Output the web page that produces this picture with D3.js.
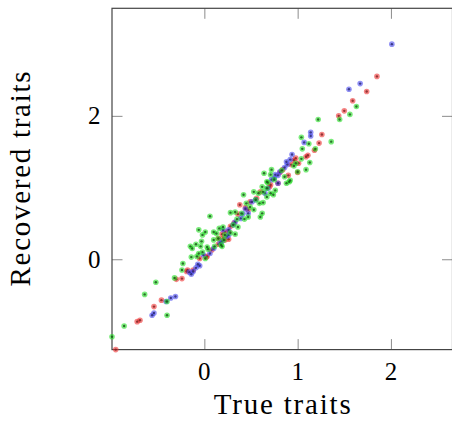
<!DOCTYPE html>
<html>
<head>
<meta charset="utf-8">
<script src="https://cdn.jsdelivr.net/npm/d3@7"></script>
<style>
  html, body { margin: 0; padding: 0; background: #fff; }
  svg { display: block; }
  text { font-family: "Liberation Serif", serif; fill: #000; }
</style>
</head>
<body>
<svg id="chart" width="452" height="421"></svg>
<script>
// ---- data (True trait, Recovered trait) ----
const redPoints = [
  [1.85,2.55],[1.74,2.34],[1.59,2.21],[1.50,2.07],[1.44,2.00],[1.26,1.74],[1.23,1.62],
  [1.11,1.45],[1.09,1.43],[0.98,1.41],[0.96,1.38],[1.01,1.34],[0.90,1.17],[0.79,1.06],
  [0.71,1.04],[0.81,1.21],[1.00,1.21],[0.70,1.01],[0.56,0.85],[0.49,0.80],[0.38,0.76],
  [0.47,0.69],[0.36,0.63],[0.32,0.51],[0.28,0.46],[0.22,0.38],[0.19,0.35],[0.15,0.29],
  [0.26,0.28],[0.26,0.39],[0.20,0.29],[0.15,0.21],[0.03,0.04],[-0.05,0.01],[0.02,0.03],
  [-0.12,-0.15],[-0.19,-0.17],[-0.18,-0.15],[-0.24,-0.27],[-0.30,-0.28],[-0.46,-0.57],
  [-0.54,-0.66],[-0.69,-0.85],[-0.72,-0.87],[-0.95,-1.26],[0.22,0.27],[0.60,0.94],
  [0.44,0.72],[0.08,0.13],[0.84,1.25],[0.93,1.32],[1.18,1.52]
];
const bluePoints = [
  [2.01,3.00],[1.67,2.45],[1.55,2.37],[1.14,1.77],[1.14,1.72],[1.07,1.63],[0.94,1.46],
  [0.92,1.39],[0.88,1.36],[0.89,1.32],[0.86,1.28],[0.81,1.22],[0.79,1.17],[0.75,1.13],
  [0.72,1.11],[0.76,1.18],[0.79,1.06],[0.65,0.92],[0.51,0.80],[0.44,0.70],[0.47,0.64],
  [0.39,0.57],[0.33,0.52],[0.26,0.41],[0.24,0.32],[0.17,0.23],[0.20,0.41],[0.26,0.34],
  [0.19,0.25],[0.10,0.15],[0.06,0.08],[-0.01,0.06],[-0.05,-0.09],[-0.09,-0.12],
  [-0.16,-0.18],[-0.14,-0.21],[-0.12,-0.17],[-0.07,-0.07],[-0.31,-0.52],[-0.36,-0.54],
  [-0.41,-0.59],[-0.54,-0.75],[-0.56,-0.78],[0.31,0.48],[0.41,0.63],[0.55,0.83],[0.68,0.99]
];
const greenPoints = [
  [1.63,2.13],[1.56,2.02],[1.45,1.95],[1.22,1.95],[1.04,1.70],[1.36,1.64],[1.12,1.61],
  [1.05,1.54],[1.19,1.54],[1.04,1.40],[1.13,1.35],[0.98,1.34],[0.96,1.30],[1.09,1.25],
  [0.72,1.25],[1.00,1.22],[0.83,1.24],[0.86,1.15],[0.71,1.18],[0.91,1.08],[0.88,1.06],
  [0.67,1.08],[0.76,0.96],[0.67,0.99],[0.64,1.20],[0.75,1.11],[0.68,1.07],[0.71,0.92],
  [0.62,1.01],[0.63,0.94],[0.67,0.87],[0.58,0.92],[0.53,0.94],[0.42,0.90],[0.55,0.83],
  [0.59,0.78],[0.63,0.79],[0.49,0.73],[0.45,0.78],[0.53,0.69],[0.62,0.64],[0.60,0.59],
  [0.40,0.64],[0.28,0.65],[0.33,0.66],[0.43,0.56],[0.35,0.56],[0.47,0.59],[0.31,0.48],
  [0.36,0.45],[0.20,0.45],[0.16,0.43],[0.28,0.37],[0.33,0.35],[0.13,0.36],[0.21,0.27],
  [0.19,0.18],[0.06,0.60],[-0.06,0.41],[0.01,0.38],[-0.02,0.34],[0.10,0.38],[0.22,0.34],
  [0.10,0.27],[0.15,0.29],[-0.03,0.25],[-0.09,0.21],[-0.13,0.15],[-0.04,0.18],[0.11,0.18],
  [0.04,0.14],[-0.02,0.10],[-0.06,0.08],[-0.14,0.03],[-0.08,0.04],[0.01,0.01],
  [-0.23,-0.06],[-0.24,-0.15],[-0.32,-0.26],[-0.52,-0.32],[-0.64,-0.49],[-0.40,-0.59],
  [-0.40,-0.78],[-0.86,-0.93],[-0.99,-1.08],[-0.15,0.18],[0.03,0.17],[0.18,0.20],
  [0.92,1.10],[0.74,0.90]
];
const xTicks = [0, 1, 2];
const yTicks = [0, 2];
const xDomain = [-0.99, 2.66];
const yDomain = [-1.26, 3.50];
const xLabel = "True traits";
const yLabel = "Recovered traits";

const series = [
  { pts: redPoints,   fill: "#ee3030", core: "#7a2020" },
  { pts: bluePoints,  fill: "#4848ee", core: "#24246e" },
  { pts: greenPoints, fill: "#22dd22", core: "#175217" }
];

// ---- layout ----
const L = 112, R = 452.5, T = 8.3, B = 349.6;
const x = d3.scaleLinear().domain(xDomain).range([L, R]);
const y = d3.scaleLinear().domain(yDomain).range([B, T]);
const svg = d3.select("#chart");
const FONT = "'Liberation Serif', serif";

const tickLen = 10.5;
const tickColor = "#8c8c8c";
const bottomAxis = d3.axisBottom(x).tickValues(xTicks).tickSize(-tickLen).tickFormat("");
const topAxis = d3.axisTop(x).tickValues(xTicks).tickSize(-tickLen).tickFormat("");
const leftAxis = d3.axisLeft(y).tickValues(yTicks).tickSize(-tickLen).tickFormat("");
const rightAxis = d3.axisRight(y).tickValues(yTicks).tickSize(-tickLen).tickFormat("");

function styleAxis(g) {
  g.select(".domain").remove();
  g.selectAll(".tick line").attr("stroke", tickColor).attr("stroke-width", 1);
}
svg.append("g").attr("transform", `translate(0,${B})`).call(bottomAxis).call(styleAxis);
svg.append("g").attr("transform", `translate(0,${T})`).call(topAxis).call(styleAxis);
svg.append("g").attr("transform", `translate(${L},0)`).call(leftAxis).call(styleAxis);
svg.append("g").attr("transform", `translate(${R},0)`).call(rightAxis).call(styleAxis);

svg.append("rect")
  .attr("x", L).attr("y", T).attr("width", R - L).attr("height", B - T)
  .attr("fill", "none").attr("stroke", "#444").attr("stroke-width", 1.2);

svg.append("g").selectAll("text").data(xTicks).join("text")
  .attr("x", d => x(d)).attr("y", 380)
  .attr("text-anchor", "middle").attr("font-size", 25).attr("font-family", FONT)
  .text(d => d);
svg.append("g").selectAll("text").data(yTicks).join("text")
  .attr("x", 100.5).attr("y", d => y(d) + 8.5)
  .attr("text-anchor", "end").attr("font-size", 25).attr("font-family", FONT)
  .text(d => d);

svg.append("text")
  .attr("x", (L + R) / 2).attr("y", 414)
  .attr("text-anchor", "middle").attr("font-size", 29).attr("font-family", FONT)
  .attr("textLength", 137).attr("lengthAdjust", "spacing")
  .text(xLabel);
svg.append("text")
  .attr("transform", `translate(29.5,${(T + B) / 2}) rotate(-90)`)
  .attr("text-anchor", "middle").attr("font-size", 29).attr("font-family", FONT)
  .attr("textLength", 215).attr("lengthAdjust", "spacing")
  .text(yLabel);

series.forEach(s => {
  const g = svg.append("g");
  g.selectAll("circle.o").data(s.pts).join("circle")
    .attr("class", "o")
    .attr("cx", d => x(d[0])).attr("cy", d => y(d[1]))
    .attr("r", 2.8).attr("fill", s.fill).attr("fill-opacity", 0.6);
  g.selectAll("circle.c").data(s.pts).join("circle")
    .attr("class", "c")
    .attr("cx", d => x(d[0])).attr("cy", d => y(d[1]))
    .attr("r", 1.2).attr("fill", s.core).attr("fill-opacity", 0.8);
});
</script>
</body>
</html>
